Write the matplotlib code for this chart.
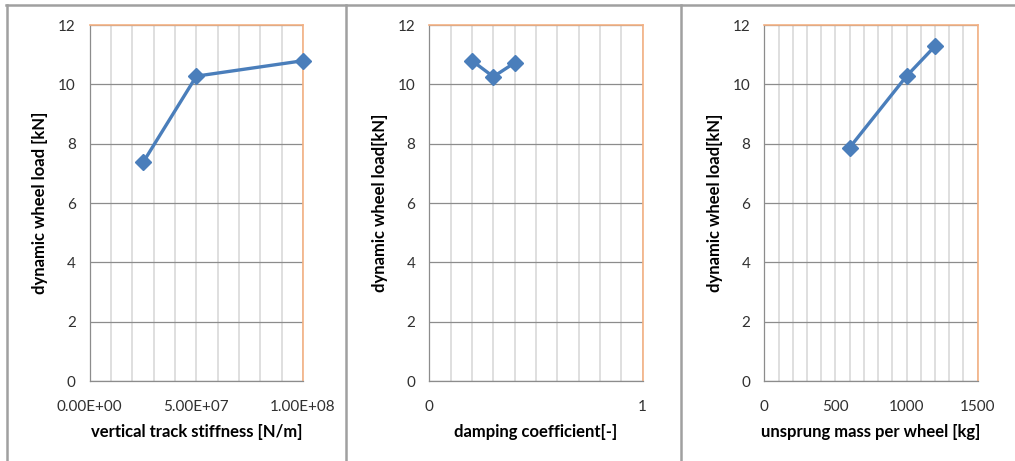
import matplotlib.pyplot as plt
from matplotlib.lines import Line2D
from matplotlib.ticker import MultipleLocator, FuncFormatter

plt.rcParams['font.family'] = ['Lato', 'DejaVu Sans']

# data
stiffness = [2.5e7, 5.0e7, 1.0e8]
load_stiffness = [7.37, 10.28, 10.80]

damping = [0.2, 0.3, 0.4]
load_damping = [10.80, 10.26, 10.73]

mass = [600, 1000, 1200]
load_mass = [7.87, 10.28, 11.29]

blue = '#4A7EBB'
grid_major = '#8c8c8c'
grid_minor = '#d9d9d9'
orange = '#F4B183'

fig = plt.figure(figsize=(10.15, 4.61), dpi=100)

lefts = [0.0884, 0.423, 0.753]
bottom, height, width = 0.1735, 0.772, 0.2102

panels = [
    (stiffness, load_stiffness, (0, 1e8), 5e7, 1e7,
     "vertical track stiffness [N/m]", "dynamic wheel load [kN]",
     lambda v, p: f"{v:.2E}"),
    (damping, load_damping, (0, 1), 1, 0.1,
     "damping coefficient[-]", "dynamic wheel load[kN]",
     lambda v, p: f"{v:g}"),
    (mass, load_mass, (0, 1500), 500, 100,
     "unsprung mass per wheel [kg]", "dynamic wheel load[kN]",
     lambda v, p: f"{v:g}"),
]

for left, (x, y, xlim, major, minor, xlabel, ylabel, fmt) in zip(lefts, panels):
    ax = fig.add_axes([left, bottom, width, height])
    ax.plot(x, y, color=blue, lw=2.4, marker='D', ms=8, zorder=3, clip_on=False)
    ax.set_xlim(*xlim)
    ax.set_ylim(0, 12)
    ax.xaxis.set_major_locator(MultipleLocator(major))
    ax.xaxis.set_minor_locator(MultipleLocator(minor))
    ax.yaxis.set_major_locator(MultipleLocator(2))
    ax.xaxis.set_major_formatter(FuncFormatter(fmt))
    ax.grid(True, which='minor', axis='x', color=grid_minor, lw=1.2)
    ax.grid(True, which='major', axis='x', color=grid_minor, lw=1.2)
    ax.grid(True, which='major', axis='y', color=grid_major, lw=0.9)
    ax.set_axisbelow(True)
    ax.tick_params(which='both', length=0, labelsize=11, colors='#303030', pad=10)
    ax.tick_params(axis='x', pad=14)
    for s in ['left', 'bottom']:
        ax.spines[s].set_color(grid_major)
        ax.spines[s].set_linewidth(0.9)
    for s in ['top', 'right']:
        ax.spines[s].set_color(orange)
        ax.spines[s].set_linewidth(1.2)
    ax.set_xlabel(xlabel, fontsize=12, fontweight='bold', labelpad=7)
    ax.set_ylabel(ylabel, fontsize=12, fontweight='bold', labelpad=7)

# panel frames
W, H = 1015, 461
frame = dict(color='#a0a0a0', lw=1.8, transform=fig.transFigure)
fig.add_artist(Line2D([6 / W, 1], [1 - 5.5 / H] * 2, **frame))
for px in [6.5, 346, 681]:
    fig.add_artist(Line2D([px / W] * 2, [0, 1 - 5.5 / H], **frame))

fig.savefig("out.png", dpi=100)
